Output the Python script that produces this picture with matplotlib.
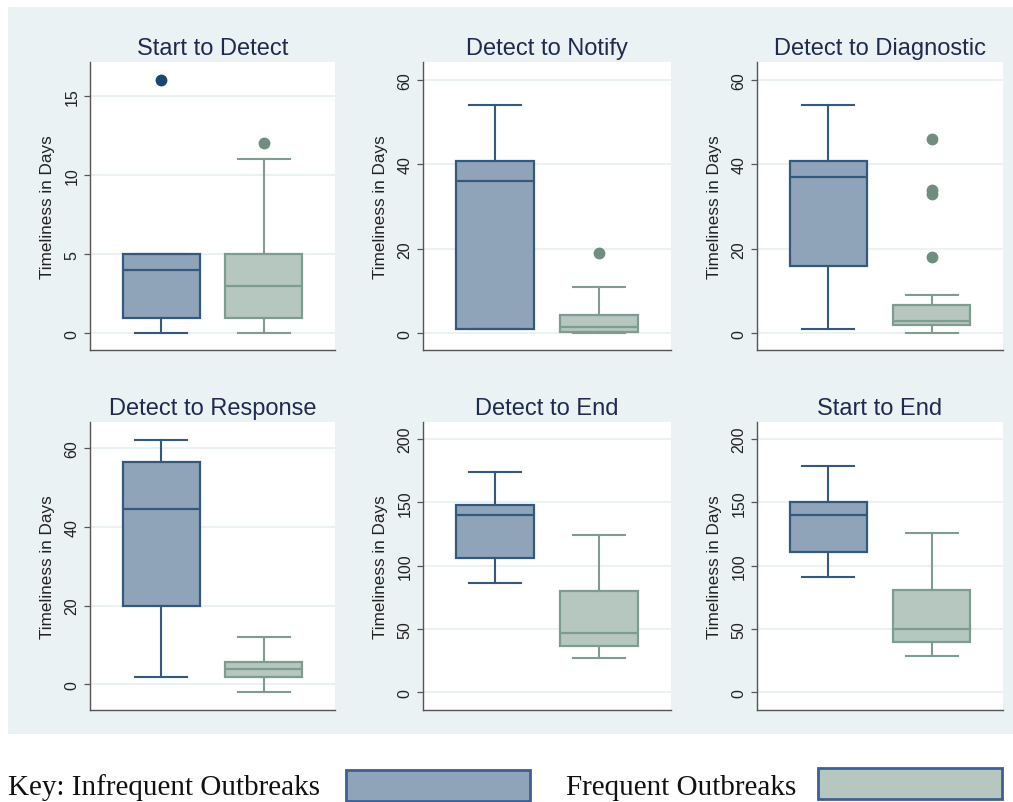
import matplotlib
matplotlib.use("Agg")
import matplotlib.pyplot as plt
from matplotlib.patches import Rectangle

plt.rcParams['font.family'] = ['Liberation Sans', 'DejaVu Sans']

# ---- data ----
titles = ["Start to Detect", "Detect to Notify", "Detect to Diagnostic",
          "Detect to Response", "Detect to End", "Start to End"]
groups = ["Infrequent Outbreaks", "Frequent Outbreaks"]

inf_whislo = [0, 1, 1, 2, 86, 91]
inf_q1 = [1, 1, 16, 20, 106, 110.5]
inf_med = [4, 36, 37, 44.6, 140, 140]
inf_q3 = [5, 40.8, 40.8, 56.5, 148, 150]
inf_whishi = [5, 54, 54, 62, 174, 179]
inf_fliers = [[16], [], [], [], [], []]

freq_whislo = [0, 0, 0, -2, 27, 29]
freq_q1 = [1, 0.2, 2, 2, 36.5, 39.5]
freq_med = [3, 1.4, 3, 4, 46.5, 50]
freq_q3 = [5, 4.3, 6.8, 5.8, 80, 81]
freq_whishi = [11, 11, 9, 12, 124, 126]
freq_fliers = [[12], [19], [18, 33, 34, 46], [], [], []]

yticks = [[0, 5, 10, 15], [0, 20, 40, 60], [0, 20, 40, 60],
          [0, 20, 40, 60], [0, 50, 100, 150, 200], [0, 50, 100, 150, 200]]
ylims = [(-1.05, 17.13), (-3.95, 64.26), (-3.95, 64.26),
         (-6.5, 66.6), (-14, 213.4), (-14, 213.4)]

ylabel = "Timeliness in Days"
key_label = "Key:"

# ---- styles ----
BG = "#EAF2F3"
INF_FILL, INF_EDGE, INF_PT = "#8FA4B9", "#34597F", "#1A476F"
FRQ_FILL, FRQ_EDGE, FRQ_PT = "#B6C7C0", "#7E9C90", "#6F8E80"
TITLE_C = "#1F2A50"

W, H = 1013, 803
fig = plt.figure(figsize=(W / 100, H / 100), dpi=100)
fig.patch.set_facecolor("white")
fig.patches.append(Rectangle((8 / W, (H - 735) / H), 1 - 8 / W, (735 - 8) / H,
                             transform=fig.transFigure, facecolor=BG,
                             edgecolor="none", zorder=-5))

cols = [(90, 335), (423, 671), (757, 1003)]
rows = [(63, 351), (423, 711)]

for i, title in enumerate(titles):
    r, c = divmod(i, 3)
    (l, rr), (t, b) = cols[c], rows[r]
    ax = fig.add_axes([l / W, (H - b) / H, (rr - l) / W, (b - t) / H])
    ax.set_facecolor("white")
    stats = [
        dict(whislo=inf_whislo[i], q1=inf_q1[i], med=inf_med[i], q3=inf_q3[i],
             whishi=inf_whishi[i], fliers=inf_fliers[i]),
        dict(whislo=freq_whislo[i], q1=freq_q1[i], med=freq_med[i], q3=freq_q3[i],
             whishi=freq_whishi[i], fliers=freq_fliers[i]),
    ]
    for k, (st, fill, edge, pt) in enumerate([(stats[0], INF_FILL, INF_EDGE, INF_PT),
                                              (stats[1], FRQ_FILL, FRQ_EDGE, FRQ_PT)]):
        ax.bxp([st], positions=[k + 1], widths=0.748, capwidths=[0.5],
               patch_artist=True, showfliers=True,
               boxprops=dict(facecolor=fill, edgecolor=edge, linewidth=1.6),
               medianprops=dict(color=edge, linewidth=1.6),
               whiskerprops=dict(color=edge, linewidth=1.5),
               capprops=dict(color=edge, linewidth=1.5),
               flierprops=dict(marker="o", markerfacecolor=pt, markeredgecolor=pt,
                               markersize=7.5, linestyle="none"))
    ax.set_xlim(0.31, 2.69)
    ax.set_ylim(*ylims[i])
    ax.set_yticks(yticks[i])
    ax.set_xticks([])
    ax.yaxis.grid(True, color=BG, linewidth=1.5)
    ax.set_axisbelow(True)
    for s in ["top", "right"]:
        ax.spines[s].set_visible(False)
    for s in ["left", "bottom"]:
        ax.spines[s].set_color("#555555")
        ax.spines[s].set_linewidth(1.0)
    ax.tick_params(axis="y", length=4.5, width=0.9, color="#555555",
                   labelsize=11.5, pad=3, labelcolor="#222222")
    for lab in ax.get_yticklabels():
        lab.set_rotation(90)
        lab.set_va("center")
    ax.set_ylabel(ylabel, fontsize=12.3, color="#222222", labelpad=7)
    ax.set_title(title, fontsize=17, color=TITLE_C, pad=6)

# ---- key below ----
ty = 1 - 788 / H
fig.text(8 / W, ty, key_label + " " + groups[0], family=["Liberation Serif", "DejaVu Serif"],
         fontsize=21, va="center", ha="left", color="#111111")
fig.text(566 / W, ty, groups[1], family=["Liberation Serif", "DejaVu Serif"],
         fontsize=21, va="center", ha="left", color="#111111")
fig.patches.append(Rectangle((346 / W, (H - 803) / H + 0.001), (530 - 346) / W, 31 / H,
                             transform=fig.transFigure, facecolor=INF_FILL,
                             edgecolor="#3E5F94", linewidth=2))
fig.patches.append(Rectangle((818 / W, (H - 800) / H), (1002 - 818) / W, 31 / H,
                             transform=fig.transFigure, facecolor=FRQ_FILL,
                             edgecolor="#3E5F94", linewidth=2))

fig.savefig("out.png", dpi=100)
